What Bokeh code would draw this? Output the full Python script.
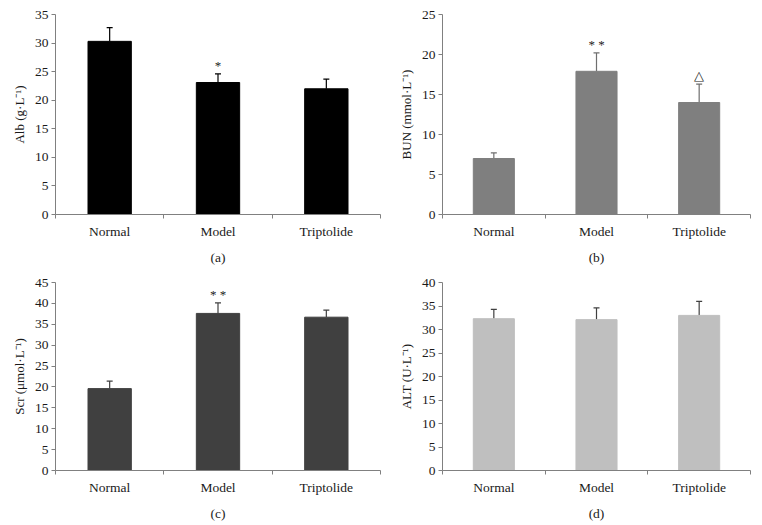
from bokeh.plotting import figure
from bokeh.models import Range1d, FixedTicker, Whisker, ColumnDataSource, TeeHead
from bokeh.layouts import gridplot
from bokeh.core.properties import value
from bokeh.embed import file_html
from bokeh.resources import INLINE

categories = ["Normal", "Model", "Triptolide"]

alb_mean = [30.3, 23.1, 22.0]
alb_err = [2.4, 1.5, 1.7]
alb_marks = ["", "*", ""]

bun_mean = [7.0, 17.9, 14.0]
bun_err = [0.7, 2.3, 2.3]
bun_marks = ["", "* *", "△"]

scr_mean = [19.6, 37.6, 36.7]
scr_err = [1.8, 2.5, 1.7]
scr_marks = ["", "* *", ""]

alt_mean = [32.3, 32.1, 33.0]
alt_err = [2.0, 2.5, 3.0]
alt_marks = ["", "", ""]

FONT = "Liberation Serif"
AXIS_COLOR = "#808080"


def panel(mean, err, marks, ymax, ylabel, caption, color, err_color,
          width, height, bl, br, bt, bb):
    xs = [i + 0.5 for i in range(len(categories))]
    upper = [m + e for m, e in zip(mean, err)]
    src = ColumnDataSource(dict(x=xs, mean=mean, upper=upper, marks=marks))

    p = figure(width=width, height=height, output_backend="svg",
               toolbar_location=None, x_range=Range1d(0, len(categories)),
               y_range=Range1d(0, ymax),
               min_border_left=bl, min_border_right=br,
               min_border_top=bt, min_border_bottom=bb)
    p.outline_line_color = None
    p.grid.visible = False

    p.vbar(x="x", top="mean", width=0.4, source=src,
           fill_color=color, line_color=color)
    p.add_layout(Whisker(base="x", upper="upper", lower="mean", source=src,
                         line_color=err_color, line_width=1.2,
                         upper_head=TeeHead(size=6, line_color=err_color, line_width=1.2),
                         lower_head=None))
    p.text(x="x", y="upper", text="marks", source=src,
           text_font=value(FONT), text_font_size="13px",
           text_align="center", text_baseline="bottom", y_offset=-1,
           text_color="#222222")

    # x axis
    xa = p.xaxis[0]
    xa.ticker = FixedTicker(ticks=xs, minor_ticks=list(range(len(categories) + 1)))
    xa.major_label_overrides = {x: c for x, c in zip(xs, categories)}
    xa.major_tick_line_color = None
    xa.major_tick_out = 0
    xa.major_tick_in = 0
    xa.minor_tick_out = 4
    xa.minor_tick_in = 0
    xa.minor_tick_line_color = AXIS_COLOR
    xa.axis_line_color = AXIS_COLOR
    xa.major_label_standoff = 5
    xa.major_label_text_font = FONT
    xa.major_label_text_font_size = "13.5px"
    xa.major_label_text_color = "#1a1a1a"
    xa.axis_label = caption
    xa.axis_label_text_font = FONT
    xa.axis_label_text_font_size = "13.5px"
    xa.axis_label_text_font_style = "normal"
    xa.axis_label_text_color = "#1a1a1a"
    xa.axis_label_standoff = 8

    # y axis
    ya = p.yaxis[0]
    ya.ticker = FixedTicker(ticks=list(range(0, ymax + 1, 5)))
    ya.minor_tick_line_color = None
    ya.major_tick_out = 4
    ya.major_tick_in = 0
    ya.major_tick_line_color = AXIS_COLOR
    ya.axis_line_color = AXIS_COLOR
    ya.major_label_standoff = 3
    ya.major_label_text_font = FONT
    ya.major_label_text_font_size = "13.5px"
    ya.major_label_text_color = "#1a1a1a"
    ya.axis_label = ylabel
    ya.axis_label_text_font = FONT
    ya.axis_label_text_font_size = "13px"
    ya.axis_label_text_font_style = "normal"
    ya.axis_label_text_color = "#1a1a1a"
    ya.axis_label_standoff = 5
    return p


pa = panel(alb_mean, alb_err, alb_marks, 35, "Alb (g·L⁻¹)", "(a)",
           "#000000", "#000000", 381, 267, 55, 1, 14, 53)
pb = panel(bun_mean, bun_err, bun_marks, 25, "BUN (mmol·L⁻¹)", "(b)",
           "#7f7f7f", "#6f6f6f", 381, 267, 61, 12, 14, 53)
pc = panel(scr_mean, scr_err, scr_marks, 45, "Scr (μmol·L⁻¹)", "(c)",
           "#404040", "#404040", 381, 256, 55, 1, 15, 53)
pd = panel(alt_mean, alt_err, alt_marks, 40, "ALT (U·L⁻¹)", "(d)",
           "#bfbfbf", "#404040", 381, 256, 61, 9, 15, 53)

grid = gridplot([[pa, pb], [pc, pd]], toolbar_location=None)

open("out.html", "w").write(file_html(grid, INLINE))
